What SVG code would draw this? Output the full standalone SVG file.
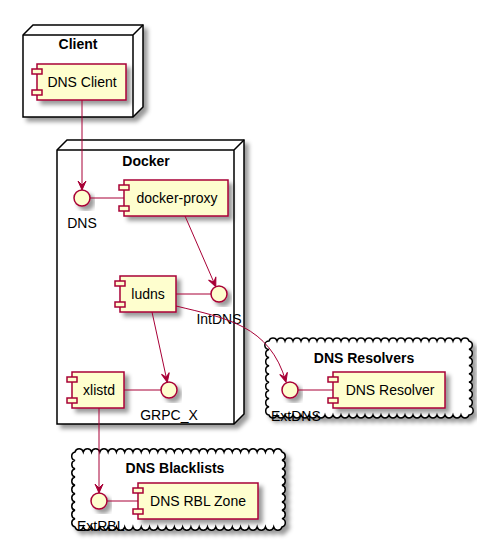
<svg xmlns="http://www.w3.org/2000/svg" width="477" height="543" viewBox="0 0 477 543">
<defs>
<filter id="sh" x="-0.2" y="-0.2" width="1.5" height="1.5">
<feGaussianBlur in="SourceAlpha" stdDeviation="2" result="b"/>
<feColorMatrix in="b" type="matrix" values="0 0 0 0 0  0 0 0 0 0  0 0 0 0 0  0 0 0 0.4 0" result="b2"/>
<feOffset in="b2" dx="4" dy="4" result="b3"/>
<feBlend in="SourceGraphic" in2="b3" mode="normal"/>
</filter>
<marker id="arr" viewBox="-10 -5 11 10" refX="0" refY="0" markerWidth="11" markerHeight="10" markerUnits="userSpaceOnUse" orient="auto">
<path d="M0,0 L-9,-4 L-5,0 L-9,4 Z" fill="#A80036" stroke="#A80036" stroke-width="1"/>
</marker>
</defs>
<style>
text { font-family: "Liberation Sans", Arial, sans-serif; font-size: 14px; fill: #000000; }
.title { font-weight: bold; text-anchor: middle; }
.ctext { text-anchor: middle; }
.lbl { text-anchor: middle; }
.node { fill: #FFFFFF; stroke: #000000; stroke-width: 1.5; }
.nline { fill: none; stroke: #000000; stroke-width: 1.5; }
.cloud { fill: #FFFFFF; stroke: #000000; stroke-width: 1.5; }
.comp { fill: #FEFECE; stroke: #A80036; stroke-width: 1.5; }
.iface { fill: #FEFECE; stroke: #A80036; stroke-width: 1.5; }
.link { fill: none; stroke: #A80036; stroke-width: 1; }
.arrow { marker-end: url(#arr); }
</style>

<!-- Clusters -->
<g id="client">
<polygon class="node" filter="url(#sh)" points="23,35 33,25 143,25 143,107 133,117 23,117"/>
<path class="nline" d="M133,35 L143,25 M23,35 L133,35 M133,35 L133,117"/>
<text class="title" x="78" y="49">Client</text>
</g>

<g id="docker">
<polygon class="node" filter="url(#sh)" points="57,150 67,140 244,140 244,414 234,424 57,424"/>
<path class="nline" d="M234,150 L244,140 M57,150 L234,150 M234,150 L234,424"/>
<text class="title" x="146" y="166">Docker</text>
</g>

<g id="dns-resolvers">
<path class="cloud" filter="url(#sh)" d="M269,341
a4.2 4.2 0 0 1 8 0a4.2 4.2 0 0 1 8 0a4.2 4.2 0 0 1 8 0a4.2 4.2 0 0 1 8 0a4.2 4.2 0 0 1 8 0
a4.2 4.2 0 0 1 8 0a4.2 4.2 0 0 1 8 0a4.2 4.2 0 0 1 8 0a4.2 4.2 0 0 1 8 0a4.2 4.2 0 0 1 8 0
a4.2 4.2 0 0 1 8 0a4.2 4.2 0 0 1 8 0a4.2 4.2 0 0 1 8 0a4.2 4.2 0 0 1 8 0a4.2 4.2 0 0 1 8 0
a4.2 4.2 0 0 1 8 0a4.2 4.2 0 0 1 8 0a4.2 4.2 0 0 1 8 0a4.2 4.2 0 0 1 8 0a4.2 4.2 0 0 1 8 0
a4.2 4.2 0 0 1 8 0a4.2 4.2 0 0 1 8 0a4.2 4.2 0 0 1 8 0a4.2 4.2 0 0 1 8 0a4.2 4.2 0 0 1 8 0
a4.2 4.2 0 0 1 0 8.2a4.2 4.2 0 0 1 0 8.2a4.2 4.2 0 0 1 0 8.2a4.2 4.2 0 0 1 0 8.2a4.2 4.2 0 0 1 0 8.2
a4.2 4.2 0 0 1 0 8.2a4.2 4.2 0 0 1 0 8.2a4.2 4.2 0 0 1 0 8.2a4.2 4.2 0 0 1 0 8.4
a4.2 4.2 0 0 1 -8 0a4.2 4.2 0 0 1 -8 0a4.2 4.2 0 0 1 -8 0a4.2 4.2 0 0 1 -8 0a4.2 4.2 0 0 1 -8 0
a4.2 4.2 0 0 1 -8 0a4.2 4.2 0 0 1 -8 0a4.2 4.2 0 0 1 -8 0a4.2 4.2 0 0 1 -8 0a4.2 4.2 0 0 1 -8 0
a4.2 4.2 0 0 1 -8 0a4.2 4.2 0 0 1 -8 0a4.2 4.2 0 0 1 -8 0a4.2 4.2 0 0 1 -8 0a4.2 4.2 0 0 1 -8 0
a4.2 4.2 0 0 1 -8 0a4.2 4.2 0 0 1 -8 0a4.2 4.2 0 0 1 -8 0a4.2 4.2 0 0 1 -8 0a4.2 4.2 0 0 1 -8 0
a4.2 4.2 0 0 1 -8 0a4.2 4.2 0 0 1 -8 0a4.2 4.2 0 0 1 -8 0a4.2 4.2 0 0 1 -8 0a4.2 4.2 0 0 1 -8 0
a4.2 4.2 0 0 1 0 -8.2a4.2 4.2 0 0 1 0 -8.2a4.2 4.2 0 0 1 0 -8.2a4.2 4.2 0 0 1 0 -8.2a4.2 4.2 0 0 1 0 -8.2
a4.2 4.2 0 0 1 0 -8.2a4.2 4.2 0 0 1 0 -8.2a4.2 4.2 0 0 1 0 -8.2a4.2 4.2 0 0 1 0 -8.4Z"/>
<text class="title" x="364" y="363">DNS Resolvers</text>
</g>

<g id="dns-blacklists">
<path class="cloud" filter="url(#sh)" d="M75,452
a4.3 4.3 0 0 1 8.28 0a4.3 4.3 0 0 1 8.28 0a4.3 4.3 0 0 1 8.28 0a4.3 4.3 0 0 1 8.28 0a4.3 4.3 0 0 1 8.28 0
a4.3 4.3 0 0 1 8.28 0a4.3 4.3 0 0 1 8.28 0a4.3 4.3 0 0 1 8.28 0a4.3 4.3 0 0 1 8.28 0a4.3 4.3 0 0 1 8.28 0
a4.3 4.3 0 0 1 8.28 0a4.3 4.3 0 0 1 8.28 0a4.3 4.3 0 0 1 8.28 0a4.3 4.3 0 0 1 8.28 0a4.3 4.3 0 0 1 8.28 0
a4.3 4.3 0 0 1 8.28 0a4.3 4.3 0 0 1 8.28 0a4.3 4.3 0 0 1 8.28 0a4.3 4.3 0 0 1 8.28 0a4.3 4.3 0 0 1 8.28 0
a4.3 4.3 0 0 1 8.28 0a4.3 4.3 0 0 1 8.28 0a4.3 4.3 0 0 1 8.28 0a4.3 4.3 0 0 1 8.28 0a4.3 4.3 0 0 1 8.28 0
a4.3 4.3 0 0 1 0 8.33a4.3 4.3 0 0 1 0 8.33a4.3 4.3 0 0 1 0 8.33a4.3 4.3 0 0 1 0 8.33a4.3 4.3 0 0 1 0 8.33
a4.3 4.3 0 0 1 0 8.33a4.3 4.3 0 0 1 0 8.33a4.3 4.3 0 0 1 0 8.33a4.3 4.3 0 0 1 0 8.36
a4.3 4.3 0 0 1 -8.28 0a4.3 4.3 0 0 1 -8.28 0a4.3 4.3 0 0 1 -8.28 0a4.3 4.3 0 0 1 -8.28 0a4.3 4.3 0 0 1 -8.28 0
a4.3 4.3 0 0 1 -8.28 0a4.3 4.3 0 0 1 -8.28 0a4.3 4.3 0 0 1 -8.28 0a4.3 4.3 0 0 1 -8.28 0a4.3 4.3 0 0 1 -8.28 0
a4.3 4.3 0 0 1 -8.28 0a4.3 4.3 0 0 1 -8.28 0a4.3 4.3 0 0 1 -8.28 0a4.3 4.3 0 0 1 -8.28 0a4.3 4.3 0 0 1 -8.28 0
a4.3 4.3 0 0 1 -8.28 0a4.3 4.3 0 0 1 -8.28 0a4.3 4.3 0 0 1 -8.28 0a4.3 4.3 0 0 1 -8.28 0a4.3 4.3 0 0 1 -8.28 0
a4.3 4.3 0 0 1 -8.28 0a4.3 4.3 0 0 1 -8.28 0a4.3 4.3 0 0 1 -8.28 0a4.3 4.3 0 0 1 -8.28 0a4.3 4.3 0 0 1 -8.28 0
a4.3 4.3 0 0 1 0 -8.33a4.3 4.3 0 0 1 0 -8.33a4.3 4.3 0 0 1 0 -8.33a4.3 4.3 0 0 1 0 -8.33a4.3 4.3 0 0 1 0 -8.33
a4.3 4.3 0 0 1 0 -8.33a4.3 4.3 0 0 1 0 -8.33a4.3 4.3 0 0 1 0 -8.33a4.3 4.3 0 0 1 0 -8.36Z"/>
<text class="title" x="175" y="473">DNS Blacklists</text>
</g>

<!-- Components -->
<g id="dns-client">
<rect class="comp" filter="url(#sh)" x="37" y="64" width="89" height="36"/>
<rect class="comp" x="32" y="69" width="10" height="5"/>
<rect class="comp" x="32" y="90" width="10" height="5"/>
<text class="ctext" x="82" y="87">DNS Client</text>
</g>

<g id="docker-proxy">
<rect class="comp" filter="url(#sh)" x="124" y="180" width="104" height="36"/>
<rect class="comp" x="119" y="185" width="10" height="5"/>
<rect class="comp" x="119" y="206" width="10" height="5"/>
<text class="ctext" x="177" y="203">docker-proxy</text>
</g>

<g id="ludns">
<rect class="comp" filter="url(#sh)" x="120" y="276" width="56" height="36"/>
<rect class="comp" x="115" y="281" width="10" height="5"/>
<rect class="comp" x="115" y="302" width="10" height="5"/>
<text class="ctext" x="148" y="299">ludns</text>
</g>

<g id="xlistd">
<rect class="comp" filter="url(#sh)" x="72" y="372" width="52" height="36"/>
<rect class="comp" x="67" y="377" width="10" height="5"/>
<rect class="comp" x="67" y="398" width="10" height="5"/>
<text class="ctext" x="99" y="395">xlistd</text>
</g>

<g id="dns-resolver">
<rect class="comp" filter="url(#sh)" x="333" y="372" width="112" height="36"/>
<rect class="comp" x="328" y="377" width="10" height="5"/>
<rect class="comp" x="328" y="398" width="10" height="5"/>
<text class="ctext" x="390" y="395">DNS Resolver</text>
</g>

<g id="dns-rbl-zone">
<rect class="comp" filter="url(#sh)" x="138" y="483" width="120" height="36"/>
<rect class="comp" x="133" y="488" width="10" height="5"/>
<rect class="comp" x="133" y="509" width="10" height="5"/>
<text class="ctext" x="198" y="506">DNS RBL Zone</text>
</g>

<!-- Interfaces -->
<g id="if-dns">
<circle class="iface" filter="url(#sh)" cx="82" cy="198" r="8"/>
<text class="lbl" x="82" y="228">DNS</text>
</g>
<g id="if-intdns">
<circle class="iface" filter="url(#sh)" cx="219" cy="294" r="8"/>
<text class="lbl" x="219" y="324">IntDNS</text>
</g>
<g id="if-grpc-x">
<circle class="iface" filter="url(#sh)" cx="169" cy="390" r="8"/>
<text class="lbl" x="169" y="420">GRPC_X</text>
</g>
<g id="if-extdns">
<circle class="iface" filter="url(#sh)" cx="290" cy="390" r="8"/>
<text x="271" y="421">ExtDNS</text>
</g>
<g id="if-extrbl">
<circle class="iface" filter="url(#sh)" cx="99" cy="501" r="8"/>
<text x="77" y="531">ExtRBL</text>
</g>

<!-- Connectors -->
<g id="connectors">
<path class="link arrow" d="M82,100 L82,190"/>
<path class="link" d="M90,198 L124,198"/>
<path class="link arrow" d="M185,216 L215.8,286.7"/>
<path class="link" d="M176,294 L211,294"/>
<path class="link arrow" d="M152,312 L167.3,382.2"/>
<path class="link" d="M124,390 L161,390"/>
<path class="link arrow" d="M176,306 C225,318 270,325 286,382"/>
<path class="link" d="M298,390 L333,390"/>
<path class="link arrow" d="M99,408 L99,493"/>
<path class="link" d="M107,501 L138,501"/>
</g>
</svg>
